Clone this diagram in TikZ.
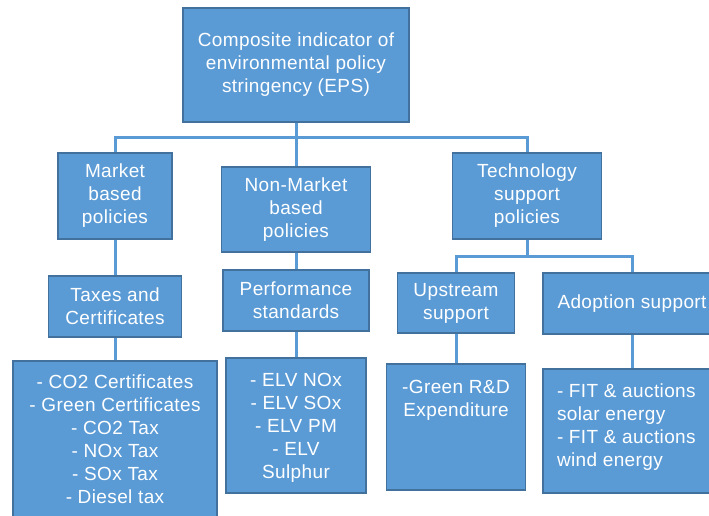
\documentclass[tikz,border=0pt]{standalone}
\usepackage{fontspec}
\setmainfont[LetterSpace=2]{Liberation Sans}
\definecolor{boxfill}{HTML}{5B9BD5}
\definecolor{boxedge}{HTML}{41719C}
\definecolor{linkblue}{HTML}{5B9BD5}
\begin{document}
\begin{tikzpicture}[x=1pt,y=-1pt,
  box/.style={draw=boxedge, fill=boxfill, line width=1.2pt, text=white,
    inner sep=0pt, align=center, font=\fontsize{19}{23}\selectfont},
  listbox/.style={draw=boxedge, fill=boxfill, line width=1.2pt, text=white,
    inner sep=0pt, font=\fontsize{19}{23}\selectfont},
  conn/.style={draw=linkblue, line width=3pt}]
\useasboundingbox (0,0) rectangle (709,515);
\clip (0,0) rectangle (709,515);

% first two levels
\node[box, minimum width=226pt, minimum height=114pt] (top) at (296,65)
  {Composite indicator of\\environmental policy\\stringency (EPS)};
\node[box, minimum width=114pt, minimum height=86pt] (market) at (115,196)
  {Market\\based\\policies};
\node[box, minimum width=149pt, minimum height=85pt] (nonmarket) at (296,209.5)
  {Non-Market\\based\\policies};
\node[box, minimum width=149pt, minimum height=86pt] (tech) at (527,196)
  {Technology\\support\\policies};

% instrument groups
\node[box, minimum width=133pt, minimum height=61pt] (taxes) at (115,306.5)
  {Taxes and\\Certificates};
\node[box, minimum width=146pt, minimum height=61pt] (perf) at (296,300.5)
  {Performance\\standards};
\node[box, minimum width=117pt, minimum height=60pt] (upstream) at (456,303)
  {Upstream\\support};
\node[box, minimum width=178pt, minimum height=61pt] (adoption) at (632,303.5)
  {Adoption support};

% instrument lists
\node[listbox] (taxlist) at (115,451)
  {\parbox[c][180pt][t]{204pt}{\centering\rule{0pt}{27pt}- CO2 Certificates\\
   - Green Certificates\\- CO2 Tax\\- NOx Tax\\- SOx Tax\\- Diesel tax}};
\node[listbox] (elvlist) at (296,425.5)
  {\parbox[c][135pt][t]{140pt}{\centering\rule{0pt}{28pt}- ELV NOx\\- ELV SOx\\
   - ELV PM\\- ELV\\Sulphur}};
\node[listbox] (rdlist) at (456,427)
  {\parbox[c][126pt][t]{139pt}{\centering\rule{0pt}{29pt}-Green R\&D\\Expenditure}};
\node[listbox] (fitlist) at (632,431)
  {\parbox[c][124pt][t]{178pt}{\raggedright\leftskip=14pt\relax\rule{0pt}{28pt}- FIT \& auctions\\
   solar energy\\- FIT \& auctions\\wind energy}};

% connectors
\coordinate (bus) at (296,137);
\coordinate (techbus) at (527,256);
\draw[conn] (top.south) -- (nonmarket.north);
\draw[conn] (market.north) |- (bus) -| (tech.north);
\draw[conn] (market.south) -- (taxes.north);
\draw[conn] (taxes.south) -- (taxlist.north);
\draw[conn] (nonmarket.south) -- (perf.north);
\draw[conn] (perf.south) -- (elvlist.north);
\draw[conn] (tech.south) -- (techbus);
\draw[conn] (upstream.north) |- (techbus) -| (adoption.north);
\draw[conn] (upstream.south) -- (rdlist.north);
\draw[conn] (adoption.south) -- (fitlist.north);
\end{tikzpicture}
\end{document}
